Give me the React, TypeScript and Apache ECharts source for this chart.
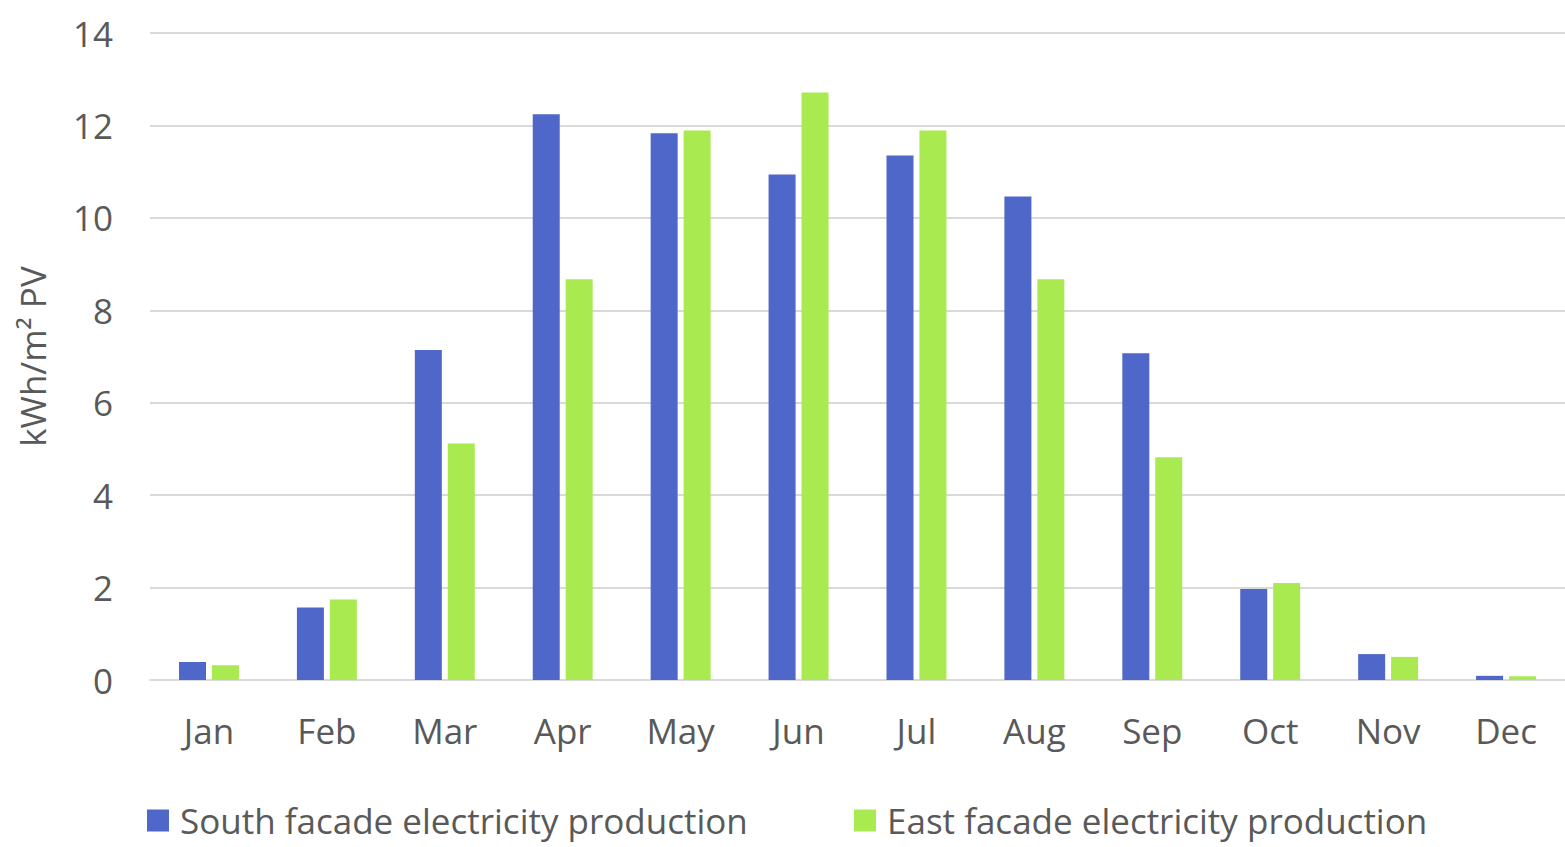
import React, { useEffect, useRef } from "react";
import * as echarts from "echarts";

const months = ["Jan", "Feb", "Mar", "Apr", "May", "Jun", "Jul", "Aug", "Sep", "Oct", "Nov", "Dec"];
const southValues = [0.39, 1.57, 7.14, 12.24, 11.83, 10.94, 11.35, 10.46, 7.07, 1.97, 0.56, 0.09];
const eastValues = [0.32, 1.74, 5.12, 8.67, 11.89, 12.71, 11.89, 8.67, 4.82, 2.1, 0.5, 0.08];
const southName = "South facade electricity production";
const eastName = "East facade electricity production";
const yAxisName = "kWh/m² PV";

const FONT = "'Open Sans', Lato, sans-serif";
const TEXT = "#595959";

export default function App() {
  const ref = useRef<HTMLDivElement>(null);
  useEffect(() => {
    if (!ref.current) return;
    const chart = echarts.init(ref.current, undefined, { renderer: "svg" });
    const legendText = { fontFamily: FONT, fontSize: 35, color: TEXT, padding: [0, 0, 0, 6] };
    chart.setOption({
      animation: false,
      backgroundColor: "#ffffff",
      textStyle: { fontFamily: FONT, color: TEXT },
      grid: { left: 150, right: 0, top: 33, bottom: 167, containLabel: false },
      legend: [
        {
          data: [southName],
          left: 147,
          top: 803,
          padding: 0,
          itemWidth: 22,
          itemHeight: 22,
          itemGap: 0,
          icon: "rect",
          textStyle: legendText,
        },
        {
          data: [eastName],
          left: 854,
          top: 803,
          padding: 0,
          itemWidth: 22,
          itemHeight: 22,
          itemGap: 0,
          icon: "rect",
          textStyle: legendText,
        },
      ],
      xAxis: {
        type: "category",
        data: months,
        axisLine: { show: true, lineStyle: { color: "#d9d9d9", width: 2 } },
        axisTick: { show: false },
        axisLabel: { fontFamily: FONT, fontSize: 35, color: TEXT, margin: 33 },
      },
      yAxis: {
        type: "value",
        min: 0,
        max: 14,
        interval: 2,
        name: yAxisName,
        nameLocation: "middle",
        nameGap: 100,
        nameRotate: 90,
        nameTextStyle: { fontFamily: FONT, fontSize: 35, color: TEXT },
        axisLine: { show: false },
        axisTick: { show: false },
        splitLine: { lineStyle: { color: "#d9d9d9", width: 2 } },
        axisLabel: { fontFamily: FONT, fontSize: 35, color: TEXT, margin: 37 },
      },
      series: [
        {
          name: southName,
          type: "bar",
          data: southValues,
          barWidth: 27,
          barGap: "22%",
          itemStyle: { color: "#4f67c8" },
        },
        {
          name: eastName,
          type: "bar",
          data: eastValues,
          barWidth: 27,
          itemStyle: { color: "#a8ea50" },
        },
      ],
    });
    return () => chart.dispose();
  }, []);
  return (
    <div
      ref={ref}
      style={{ position: "fixed", left: 0, top: 0, width: 1565, height: 847, background: "#fff" }}
    />
  );
}
